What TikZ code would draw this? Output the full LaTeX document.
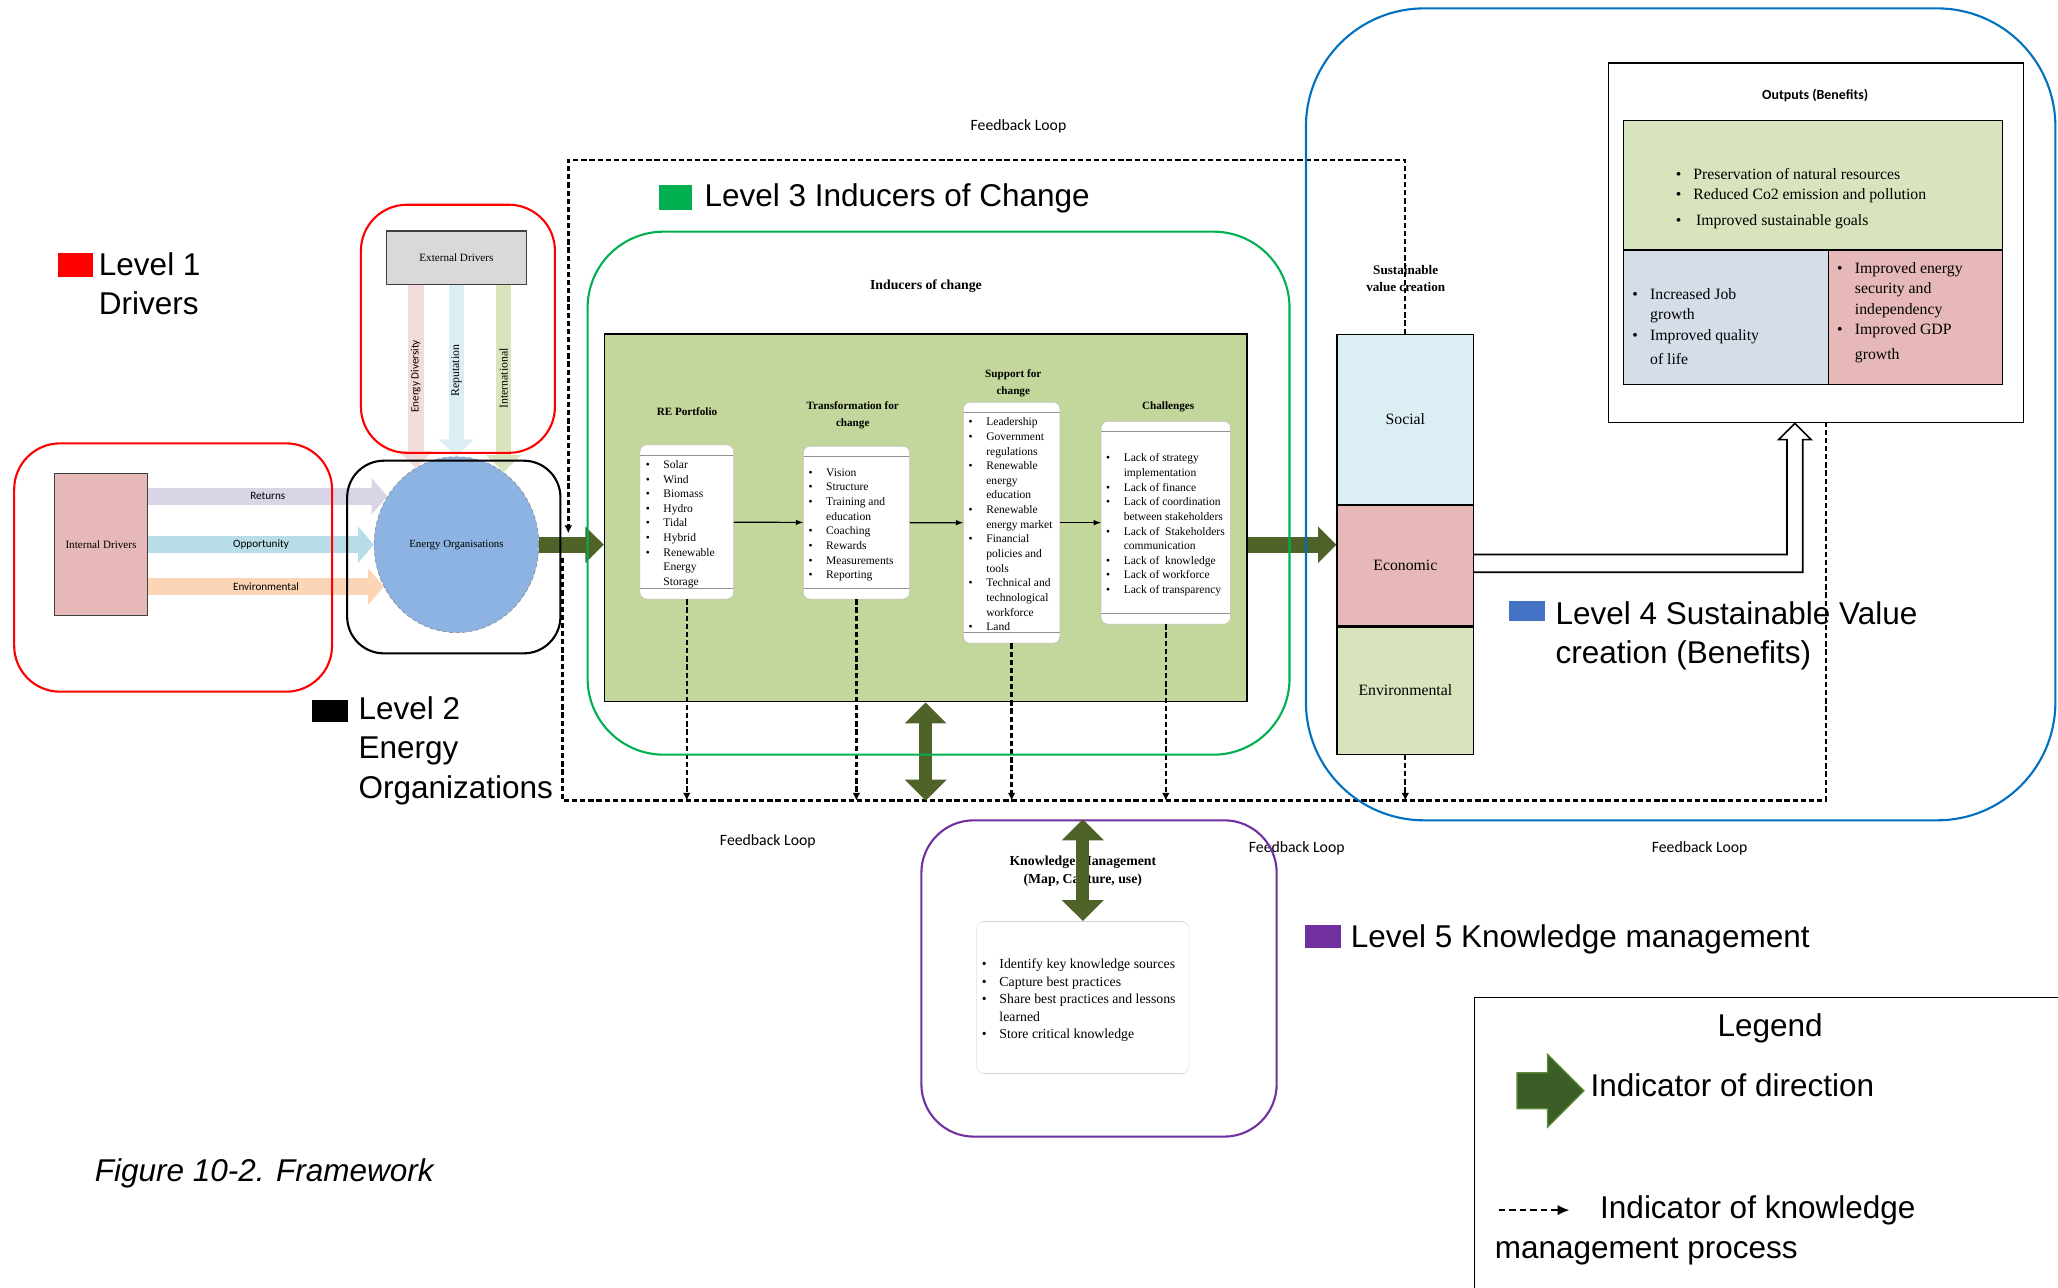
\documentclass[tikz,border=0pt]{standalone}
\usepackage{fontspec}
\setmainfont{Liberation Serif}
\newfontfamily\arialfont{Liberation Sans}
\newfontfamily\califont{Carlito}
\usetikzlibrary{positioning,arrows.meta,shapes.geometric,shapes.arrows}

\definecolor{lvlred}{HTML}{FF0000}
\definecolor{lvlgreen}{HTML}{00B050}
\definecolor{lvlblue}{HTML}{0070C0}
\definecolor{lvlpurple}{HTML}{7030A0}
\definecolor{keyblue}{HTML}{4472C4}
\definecolor{dirgreen}{HTML}{4F6228}
\definecolor{leggreen}{HTML}{3B5E27}
\definecolor{legedge}{HTML}{5E8C3A}
\definecolor{inducegreen}{HTML}{C3D69B}
\definecolor{socialblue}{HTML}{DBEEF4}
\definecolor{econred}{HTML}{E6B9B8}
\definecolor{envgreen}{HTML}{D7E4BD}
\definecolor{jobblue}{HTML}{D5DDE9}
\definecolor{extgray}{HTML}{D9D9D9}
\definecolor{orgblue}{HTML}{8DB3E2}
\definecolor{retlilac}{HTML}{DAD5E6}
\definecolor{oppblue}{HTML}{B7DEE8}
\definecolor{envorange}{HTML}{FBD5B5}
\definecolor{divpink}{HTML}{F2DCDB}

\newcommand{\fsz}[2]{\fontsize{#1}{#2}\selectfont}
\newcommand{\bitem}[1]{\makebox[13.5pt][l]{\textbullet}#1}
\newcommand{\bcont}[1]{\hspace*{13.5pt}#1}

\begin{document}
\begin{tikzpicture}[x=1pt, y=-1pt, >=latex]
\tikzstyle{lvlbox} = [draw, line width=1.6pt, inner sep=0]
\tikzstyle{lvlkey} = [rectangle, inner sep=0]
\tikzstyle{lvltxt} = [font=\arialfont\fsz{24}{30}, inner sep=0, anchor=base west, align=left]
\tikzstyle{drvbox} = [draw=black!75, line width=0.8pt, inner sep=0, font=\fsz{8.5}{10}]
\tikzstyle{drvdown} = [line width=12pt, -{Triangle[length=13pt,width=26pt]}]
\tikzstyle{drvright} = [line width=13pt, -{Triangle[length=12pt,width=27pt]}]
\tikzstyle{drvlabel} = [text=black, inner sep=0, font=\califont\fsz{8.5}{10}]
\tikzstyle{dirarrow} = [draw=dirgreen, line width=12pt, -{Triangle[length=14pt,width=27pt]}]
\tikzstyle{dirboth} = [draw=dirgreen, line width=10pt, {Triangle[length=16pt,width=31pt]}-{Triangle[length=16pt,width=31pt]}]
\tikzstyle{colbox} = [draw=gray!50, fill=white, rounded corners=5pt, inner sep=0, path picture={
  \draw[gray!85, line width=0.9pt] ([yshift=-8pt]path picture bounding box.north west) -- ([yshift=-8pt]path picture bounding box.north east);
  \draw[gray!85, line width=0.9pt] ([yshift=8pt]path picture bounding box.south west) -- ([yshift=8pt]path picture bounding box.south east);}]
\tikzstyle{coltitle} = [font=\bfseries\fsz{8.5}{13}, align=center, inner sep=0]
\tikzstyle{listtxt} = [font=\fsz{8.8}{11.15}, align=left, inner sep=0, anchor=west]
\tikzstyle{fb} = [dash pattern=on 4pt off 2.2pt, line width=1.8pt, -{Latex[length=6pt,width=6pt]}]
\tikzstyle{fblabel} = [font=\califont\fsz{12}{14}, inner sep=0]
\tikzstyle{svbox} = [draw, line width=1pt, minimum width=104, font=\fsz{12}{14}]
\tikzstyle{outlist} = [font=\fsz{12}{15}, align=left, inner sep=0, anchor=west]

\useasboundingbox (0,0) rectangle (1568,981);

% level keys and their titles
\node[lvlkey, fill=lvlred, minimum width=27, minimum height=18] (key1) at (57.5,202) {};
\node[lvltxt] (lvl1) at (75.2,240) {Level 1\\Drivers};
\node[lvlkey, fill=black, minimum width=27, minimum height=17] (key2) at (251.5,541.5) {};
\node[lvltxt] (lvl2) at (273,608) {Level 2\\Energy\\Organizations};
\node[lvlkey, fill=lvlgreen, minimum width=25, minimum height=19] (key3) at (514.5,150.5) {};
\node[lvltxt] (lvl3) at (536.6,157) {Level 3 Inducers of Change};
\node[lvlkey, fill=keyblue, minimum width=27, minimum height=15] (key4) at (1163.5,465.5) {};
\node[lvltxt] (lvl4) at (1185,505.5) {Level 4 Sustainable Value\\creation (Benefits)};
\node[lvlkey, fill=lvlpurple, minimum width=28, minimum height=17] (key5) at (1008,713.5) {};
\node[lvltxt] (lvl5) at (1029,722) {Level 5 Knowledge management};

% drivers
\node[drvbox, fill=extgray, minimum width=106.5, minimum height=40.6] (extd) at (347.75,196.3) {External Drivers};
\node[drvbox, fill=econred, minimum width=71.1, minimum height=108.4] (intd) at (76.95,414.8) {Internal Drivers};
\node[ellipse, draw=gray, densely dashed, line width=0.4pt, fill=orgblue, minimum width=125.4, minimum height=134, inner sep=2pt, font=\fsz{8.3}{10}] (eorg) at (347.8,415) {Energy Organisations};

\draw[drvdown, divpink] (extd.south -| eorg.118) -- node[drvlabel, rotate=90] {Energy Diversity} (eorg.118);
\draw[drvdown, socialblue] (extd.south -| eorg.90) -- node[drvlabel, rotate=90, font=\fsz{9}{10}] {Reputation} (eorg.90);
\draw[drvdown, envgreen] (extd.south -| eorg.57) -- node[drvlabel, rotate=90, font=\fsz{9}{10}] {International} (eorg.57);
\draw[drvright, retlilac] (intd.east |- eorg.145) -- node[drvlabel] {Returns} (eorg.145);
\draw[drvright, oppblue] (intd.east |- eorg.180) -- node[drvlabel] {Opportunity} (eorg.180);
\draw[drvright, envorange] (intd.east |- eorg.210) -- node[drvlabel] {Environmental} (eorg.210);

% inducers of change
\node[font=\bfseries\fsz{10.5}{12}] (indtitle) at (705.5,218.4) {Inducers of change};
\node[draw, line width=1.2pt, fill=inducegreen, minimum width=489.4, minimum height=280, inner sep=0] (indrect) at (705.3,394.6) {};
\node[coltitle] (retitle) at (523.4,314) {RE Portfolio};
\node[coltitle] (trtitle) at (649.7,316.4) {Transformation for\\change};
\node[coltitle] (sutitle) at (772,292.2) {Support for\\change};
\node[coltitle] (chtitle) at (890,309.8) {Challenges};

\node[colbox, minimum width=71.3, minimum height=117.4] (re) at (523.25,397.7) {};
\node[colbox, minimum width=81, minimum height=116.4] (trans) at (652.5,398.2) {};
\node[colbox, minimum width=73.5, minimum height=183.5] (supp) at (770.75,398.25) {};
\node[colbox, minimum width=98.5, minimum height=154.5] (chal) at (888.25,398.25) {};

\node[listtxt] (relist) at ([xshift=4.4pt, yshift=-1.7pt]re.west)
  {\bitem{Solar}\\\bitem{Wind}\\\bitem{Biomass}\\\bitem{Hydro}\\\bitem{Tidal}\\\bitem{Hybrid}\\\bitem{Renewable}\\\bcont{Energy}\\\bcont{Storage}};
\node[listtxt] (trlist) at ([xshift=4pt, yshift=-1.7pt]trans.west)
  {\bitem{Vision}\\\bitem{Structure}\\\bitem{Training and}\\\bcont{education}\\\bitem{Coaching}\\\bitem{Rewards}\\\bitem{Measurements}\\\bitem{Reporting}};
\node[listtxt] (sulist) at ([xshift=4pt, yshift=-1.2pt]supp.west)
  {\bitem{Leadership}\\\bitem{Government}\\\bcont{regulations}\\\bitem{Renewable}\\\bcont{energy}\\\bcont{education}\\\bitem{Renewable}\\\bcont{energy market}\\\bitem{Financial}\\\bcont{policies and}\\\bcont{tools}\\\bitem{Technical and}\\\bcont{technological}\\\bcont{workforce}\\\bitem{Land}};
\node[listtxt] (chlist) at ([xshift=3.7pt, yshift=-1.7pt]chal.west)
  {\bitem{Lack of strategy}\\\bcont{implementation}\\\bitem{Lack of finance}\\\bitem{Lack of coordination}\\\bcont{between stakeholders}\\\bitem{Lack of\ \ Stakeholders}\\\bcont{communication}\\\bitem{Lack of\ \ knowledge}\\\bitem{Lack of workforce}\\\bitem{Lack of transparency}};

\draw[->, line width=0.9pt] (re) -- (trans);
\draw[->, line width=0.9pt] (trans) -- (supp);
\draw[->, line width=0.9pt] (supp) -- (chal);

% sustainable value creation
\node[font=\bfseries\fsz{10}{13}, align=center, inner sep=0] (svtitle) at (1071,212.5) {Sustainable\\value creation};
\node[svbox, fill=socialblue, minimum height=129.3] (social) at (1070.7,319.5) {Social};
\node[svbox, fill=econred, minimum height=91.5, below=0pt of social] (econ) {Economic};
\node[svbox, fill=envgreen, minimum height=97, below=0pt of econ] (envir) {Environmental};

% outputs
\node[draw, line width=1pt, minimum width=316.2, minimum height=274, inner sep=0] (outb) at (1383.6,185) {};
\node[font=\califont\bfseries\fsz{10.6}{12}] (outtitle) at (1383,73) {Outputs (Benefits)};
\node[draw, line width=0.9pt, fill=envgreen, minimum width=288.6, minimum height=98.5, inner sep=0] (outgreen) at (1381.3,141.25) {};
\node[draw, line width=0.9pt, fill=jobblue, minimum width=156, minimum height=102.5, inner sep=0] (outblue) at (1315,241.75) {};
\node[draw, line width=0.9pt, fill=econred, minimum width=132.6, minimum height=102.5, inner sep=0] (outred) at (1459.3,241.75) {};
\node[outlist] (greenlist) at ([xshift=40pt, yshift=-10.4pt]outgreen.west)
  {\bitem{Preservation of natural resources}\\\bitem{Reduced Co2 emission and pollution}\\[5pt]\bitem{\,Improved sustainable goals}};
\node[outlist, font=\fsz{12}{15.5}] (bluelist) at ([xshift=7pt, yshift=-7.2pt]outblue.west)
  {\bitem{Increased Job}\\\bcont{growth}\\\bitem{Improved quality}\\[3.5pt]\bcont{of life}};
\node[outlist, font=\fsz{12}{15.5}] (redlist) at ([xshift=7pt, yshift=3.5pt]outred.west)
  {\bitem{Improved energy}\\\bcont{security and}\\\bcont{independency}\\\bitem{Improved GDP}\\[3.5pt]\bcont{growth}};

\draw[line width=1.2pt, fill=white] (econ.east |- 0,422.5) -| (1361.5,335) -- (1355,335) -- (1367.5,0 |- outb.south)
  -- (1380,335) -- (1373.5,335) |- (econ.east |- 0,436);

% knowledge management
\node[font=\bfseries\fsz{10.5}{13.7}, align=center, inner sep=0] (kmtitle) at (825,663.6) {Knowledge Management\\(Map, Capture, use)};
\node[draw=gray!25, rounded corners=6pt, minimum width=162, minimum height=116, inner sep=0, path picture={
  \draw[gray!80, line width=0.9pt] (path picture bounding box.north west) -- (path picture bounding box.north east);
  \draw[gray!80, line width=0.9pt] (path picture bounding box.south west) -- (path picture bounding box.south east);}] (kmin) at (825,760) {};
\node[listtxt, font=\fsz{10.5}{13.3}] (kmlist) at ([xshift=4pt, yshift=-2.2pt]kmin.west)
  {\bitem{Identify key knowledge sources}\\\bitem{Capture best practices}\\\bitem{Share best practices and lessons}\\\bcont{learned}\\\bitem{Store critical knowledge}};

% feedback loop
\coordinate (fbtl) at (433,121.8);
\coordinate (fbin) at (433,406.3);
\coordinate (fbout) at (428.6,425);
\coordinate (fbbl) at (428.6,610);
\coordinate (fbbr) at (1391,610);
\node[fblabel] (fb1) at (776,96.5) {Feedback Loop};
\node[fblabel] (fb2) at (585,641) {Feedback Loop};
\node[fblabel] (fb3) at (988,646) {Feedback Loop};
\node[fblabel] (fb4) at (1295,646) {Feedback Loop};
\draw[fb] (social.north) |- (fbtl) -- (fbin);
\draw[fb, -] (fbout) -- (fbbl) -- (fbbr) -- (outb.south -| fbbr);
\draw[fb] (re.south) -- (re.south |- fbbl);
\draw[fb] (trans.south) -- (trans.south |- fbbl);
\draw[fb] (supp.south) -- (supp.south |- fbbl);
\draw[fb] (chal.south) -- (chal.south |- fbbl);
\draw[fb] (envir.south) -- (envir.south |- fbbl);

% direction arrows
\draw[dirarrow] (eorg.east) -- (indrect.west |- eorg.east);
\draw[dirarrow] (indrect.east |- eorg.east) -- (econ.west |- eorg.east);
\draw[dirboth] (indrect.south) -- (indrect.south |- fbbl);

% level frames
\node[lvlbox, draw=lvlred, rounded corners=35pt, minimum width=147.8, minimum height=189] (extframe) at (348.9,250.5) {};
\node[lvlbox, draw=lvlred, rounded corners=35pt, minimum width=242.2, minimum height=189.2] (intframe) at (131.9,432.4) {};
\node[lvlbox, draw=black, rounded corners=28pt, minimum width=162.5, minimum height=146.8] (orgframe) at (345.75,424.4) {};
\node[lvlbox, draw=lvlgreen, rounded corners=58pt, minimum width=534.8, minimum height=398.5] (indframe) at (715.1,375.75) {};
\node[lvlbox, draw=lvlblue, rounded corners=90pt, minimum width=571, minimum height=618.6] (svframe) at (1280.5,315.7) {};
\node[lvlbox, draw=lvlpurple, rounded corners=40pt, minimum width=270.7, minimum height=241] (kmframe) at (837.35,745.5) {};
\draw[dirboth] (kmframe.north -| kmin.north) -- (kmin.north);

% legend
\node[draw, line width=1pt, minimum width=470, minimum height=240, inner sep=0, anchor=north west] (legbox) at (1123,759.5) {};
\node[font=\arialfont\fsz{24}{30}, inner sep=0, anchor=base] (legtitle) at (1348.6,790) {Legend};
\node[single arrow, fill=leggreen, draw=legedge, line width=1pt, inner xsep=0, inner ysep=13.2pt,
  single arrow head extend=14.1pt, minimum height=51] (legarrow) at (1174.5,831) {};
\node[lvltxt] (legdir) at (1211.6,835.6) {Indicator of direction};
\node[lvltxt] (legkm) at (1138.7,958.6) {\hspace*{80.3pt}Indicator of knowledge\\management process};
\draw[dash pattern=on 5pt off 3pt, line width=1.2pt, -{Latex[length=9pt,width=8pt]}] ([shift={(3,-36.6)}]legkm.base west) -- ++(54,0);

% caption
\node[font=\arialfont\itshape\fsz{24}{30}, inner sep=0, anchor=base west] (caption) at (72,900) {Figure 10-2. Framework};
\end{tikzpicture}
\end{document}
